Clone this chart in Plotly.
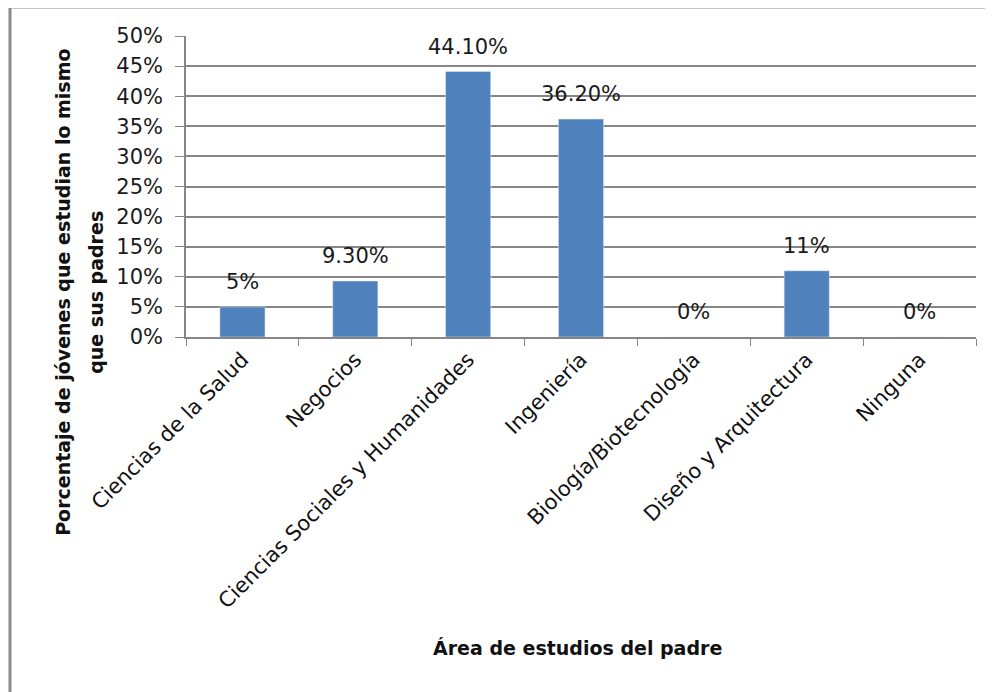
import plotly.graph_objects as go

categories = ["Ciencias de la Salud", "Negocios", "Ciencias Sociales y Humanidades",
              "Ingeniería", "Biología/Biotecnología", "Diseño y Arquitectura", "Ninguna"]
values = [0.05, 0.093, 0.441, 0.362, 0.0, 0.11, 0.0]
value_labels = ["5%", "9.30%", "44.10%", "36.20%", "0%", "11%", "0%"]
y_title_lines = ["Porcentaje de jóvenes que estudian lo mismo", "que sus padres"]
x_title = "Área de estudios del padre"

FONT = "DejaVu Sans"
GRID = "#868686"
W, H = 985, 684  # page body margin of 8px

fig = go.Figure()
fig.add_trace(go.Bar(x=categories, y=values, marker_color="#4F81BD", width=0.4,
                     hoverinfo="skip"))

for c, v, t in zip(categories, values, value_labels):
    fig.add_annotation(x=c, y=v, text=t, showarrow=False, yshift=25,
                       xanchor="center", yanchor="middle",
                       font=dict(family=FONT, size=21, color="#1a1a1a"))

fig.update_layout(
    width=W, height=H,
    margin=dict(l=178, r=17, t=28, b=355),
    plot_bgcolor="white", paper_bgcolor="white",
    showlegend=False,
    font=dict(family=FONT, size=19, color="#111"),
    xaxis=dict(
        tickangle=-45, ticks="outside", tickson="boundaries", ticklen=7,
        tickcolor=GRID, showline=True, linecolor=GRID, linewidth=2,
        tickfont=dict(family=FONT, size=21, color="#111"),
    ),
    yaxis=dict(
        range=[0, 0.5], dtick=0.05, tickformat=".0%",
        showgrid=True, gridcolor=GRID, gridwidth=1.5,
        ticks="outside", ticklen=9, tickcolor=GRID,
        showline=True, linecolor=GRID, linewidth=1.5,
        zeroline=False, ticklabelstandoff=8,
        tickfont=dict(family=FONT, size=21, color="#1a1a1a"),
    ),
)

# y-axis title (two centered lines), positioned like the reference
for line, px in zip(y_title_lines, [-0.1557, -0.1140]):
    fig.add_annotation(xref="paper", yref="paper", x=px, y=0.15, text=f"<b>{line}</b>",
                       textangle=-90, showarrow=False, xanchor="center", yanchor="middle",
                       font=dict(family=FONT, size=19, color="#111"))

fig.add_annotation(xref="paper", yref="paper", x=0.496, y=-1.033, text=f"<b>{x_title}</b>",
                   showarrow=False, xanchor="center", yanchor="middle",
                   font=dict(family=FONT, size=19, color="#111"))

fig.add_shape(type="rect", xref="paper", yref="paper",
              x0=(10 - 186) / 790, x1=1.05, y0=-3, y1=(337 - 7) / 301,
              line=dict(color="#8a8a8a", width=3), layer="below")

fig.write_html("out.html")
